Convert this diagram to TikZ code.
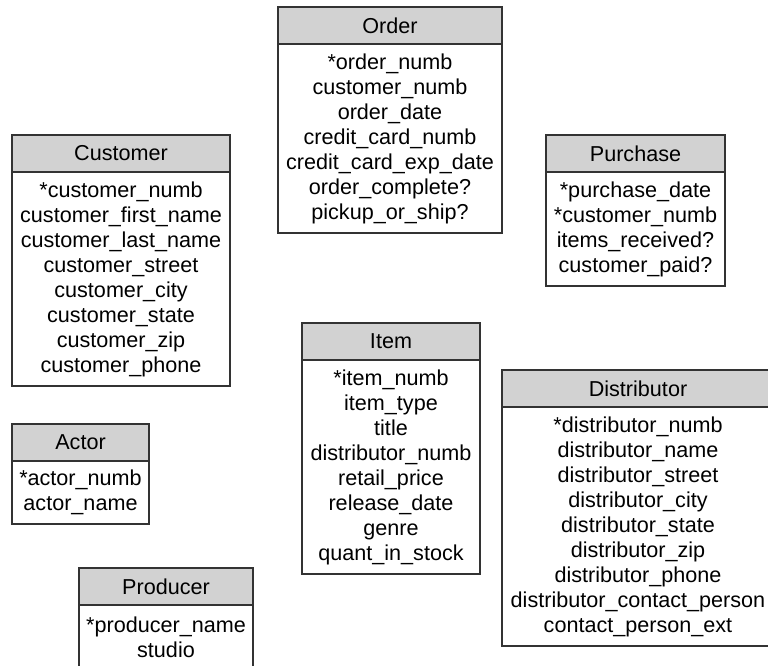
\documentclass[tikz,border=0pt]{standalone}
\usepackage{fontspec}
\setmainfont{Liberation Sans}
\usetikzlibrary{positioning}
\tikzset{
  entityhead/.style={draw=black!80, fill=gray!35, line width=0.8pt,
    minimum height=27.75pt, inner sep=0pt, outer sep=0pt, anchor=north west,
    font=\fontsize{16.2}{18.75}\selectfont},
  entitybody/.style={draw=black!80, fill=white, line width=0.8pt, align=center,
    inner sep=0pt, outer sep=0pt, font=\fontsize{16.2}{18.75}\selectfont}
}
\begin{document}
\begin{tikzpicture}[x=0.75pt,y=-0.75pt]
                \useasboundingbox (0,0) rectangle (768,666);
                \clip (0,0) rectangle (768,666);
                %\draw[help lines] (0,0) grid (768,666);
                \node[entityhead, minimum width=168pt] (order) at (278,7) {Order};
                \node[entitybody, minimum width=168pt, minimum height=141.75pt, below=0pt of order] (orderattr)
                    {*order\_numb\\customer\_numb\\order\_date\\credit\_card\_numb\\credit\_card\_exp\_date\\order\_complete?\\pickup\_or\_ship?};
                \node[entityhead, minimum width=163.5pt] (customer) at (12,135) {Customer};
                \node[entitybody, minimum width=163.5pt, minimum height=160.5pt, below=0pt of customer] (customerattr)
                    {*customer\_numb\\customer\_first\_name\\customer\_last\_name\\customer\_street\\customer\_city\\customer\_state\\customer\_zip\\customer\_phone};
                \node[entityhead, minimum width=134.25pt] (purchase) at (546,135) {Purchase};
                \node[entitybody, minimum width=134.25pt, minimum height=85.5pt, below=0pt of purchase] (purchaseattr)
                    {*purchase\_date\\*customer\_numb\\items\_received?\\customer\_paid?};
                \node[entityhead, minimum width=133.5pt] (item) at (302,323) {Item};
                \node[entitybody, minimum width=133.5pt, minimum height=160.5pt, below=0pt of item] (itemattr)
                    {*item\_numb\\item\_type\\title\\distributor\_numb\\retail\_price\\release\_date\\genre\\quant\_in\_stock};
                \node[entityhead, minimum width=204pt] (distributor) at (502,370) {Distributor};
                \node[entitybody, minimum width=204pt, minimum height=179.25pt, below=0pt of distributor] (distributorattr)
                    {*distributor\_numb\\distributor\_name\\distributor\_street\\distributor\_city\\distributor\_state\\distributor\_zip\\distributor\_phone\\distributor\_contact\_person\\contact\_person\_ext};
                \node[entityhead, minimum width=102.75pt] (actor) at (12,424) {Actor};
                \node[entitybody, minimum width=102.75pt, minimum height=47.25pt, below=0pt of actor] (actorattr)
                    {*actor\_numb\\actor\_name};
                \node[entityhead, minimum width=130.5pt] (producer) at (79,568) {Producer};
                \node[entitybody, minimum width=130.5pt, minimum height=48pt, below=0pt of producer] (producerattr)
                    {*producer\_name\\studio};
\end{tikzpicture}
\end{document}
